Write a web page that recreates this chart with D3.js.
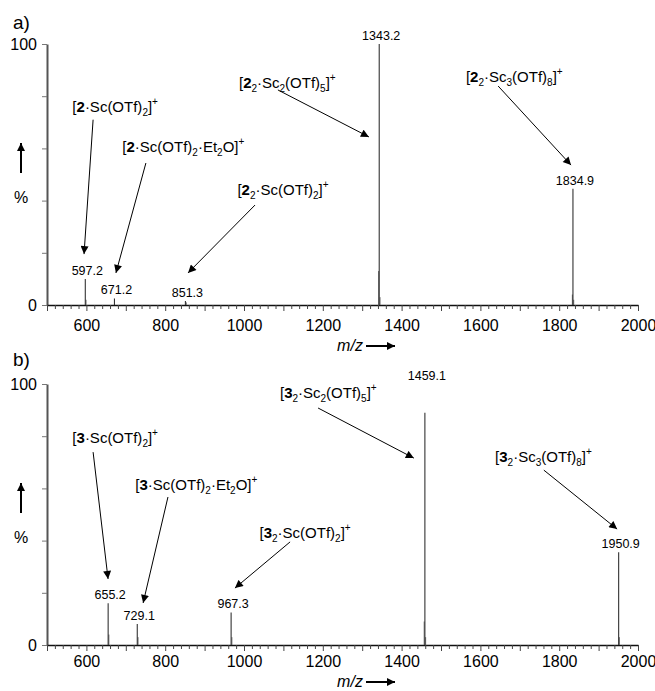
<!DOCTYPE html>
<html>
<head>
<meta charset="utf-8">
<script src="https://cdn.jsdelivr.net/npm/d3@7"></script>
<style>
  html, body { margin: 0; padding: 0; background: #fff; }
  svg { display: block; font-family: "Liberation Sans", Arial, sans-serif; }
</style>
</head>
<body>
<svg id="chart" width="655" height="691"></svg>
<script>
// ESI mass spectra, two panels.

const xDomain = [500, 2000];
const xMinorTicks = d3.range(500, 2001, 20);
const xTickLabels = [600, 800, 1000, 1200, 1400, 1600, 1800, 2000];
const yTicks = [0, 20, 40, 60, 80, 100];
const yTickLabels = [0, 100];

// labelled peaks: m/z and relative intensity (%)
const peaksA = [
  { mz: 597.2, pct: 10 },
  { mz: 671.2, pct: 2.5 },
  { mz: 851.3, pct: 1.5 },
  { mz: 1343.2, pct: 100 },
  { mz: 1834.9, pct: 44.5 },
];
const peaksB = [
  { mz: 655.2, pct: 16 },
  { mz: 729.1, pct: 8 },
  { mz: 967.3, pct: 12.5 },
  { mz: 1459.1, pct: 89 },
  { mz: 1950.9, pct: 35.5 },
];
// small unlabelled isotope / noise peaks
const minorA = [
  { mz: 599.0, pct: 2 }, { mz: 853.5, pct: 1 },
  { mz: 1341.6, pct: 13 }, { mz: 1345.2, pct: 3 },
  { mz: 1833.4, pct: 4 }, { mz: 1836.8, pct: 2 },
];
const minorB = [
  { mz: 657.0, pct: 4 }, { mz: 731.0, pct: 3 }, { mz: 969.2, pct: 3 },
  { mz: 1457.4, pct: 9 }, { mz: 1461.0, pct: 3 }, { mz: 1952.6, pct: 3 },
];

// annotation texts: *bold*, _x subscript, ^x superscript
const labelsA = [
  '[*2*·Sc(OTf)_2]^+',
  '[*2*·Sc(OTf)_2·Et_2O]^+',
  '[*2*_2·Sc(OTf)_2]^+',
  '[*2*_2·Sc_2(OTf)_5]^+',
  '[*2*_2·Sc_3(OTf)_8]^+',
];
const labelsB = [
  '[*3*·Sc(OTf)_2]^+',
  '[*3*·Sc(OTf)_2·Et_2O]^+',
  '[*3*_2·Sc(OTf)_2]^+',
  '[*3*_2·Sc_2(OTf)_5]^+',
  '[*3*_2·Sc_3(OTf)_8]^+',
];

// annotation layout in data space: text centre, arrow start, arrow tip  [mz, pct]
const layoutA = [
  { at: [673, 76], from: [617, 71], to: [594, 19.5] },
  { at: [846, 60.5], from: [751, 54.4], to: [675, 12.3] },
  { at: [1099, 44.1], from: [1028, 38.3], to: [858, 12.3] },
  { at: [1110, 85.1], from: [1086, 82.4], to: [1317, 64.4] },
  { at: [1686, 87.4], from: [1645, 83.9], to: [1830, 53.6] },
];
const layoutB = [
  { at: [673, 79.3], from: [617, 73.9], to: [655, 25.3] },
  { at: [879, 61.3], from: [807, 56.7], to: [744, 16.1] },
  { at: [1155, 42.9], from: [1117, 39.5], to: [977, 21.8] },
  { at: [1214, 96.6], from: [1188, 90.8], to: [1431, 71.6] },
  { at: [1760, 72.0], from: [1761, 67.0], to: [1947, 44.4] },
];
// where a peak's number label sits if not right above the stick
const labelLevelB = { 1459.1: 100 };

const FONT = '"Liberation Sans", Arial, sans-serif';
const svg = d3.select('#chart');

const defs = svg.append('defs');
defs.append('marker')
  .attr('id', 'head')
  .attr('markerUnits', 'userSpaceOnUse')
  .attr('viewBox', '0 0 10 10')
  .attr('refX', 10).attr('refY', 5)
  .attr('markerWidth', 9).attr('markerHeight', 8)
  .attr('orient', 'auto')
  .append('path').attr('d', 'M0,0 L10,5 L0,10 Z').attr('fill', '#000');

function richText(textSel, markup) {
  const segs = [];
  let bold = false;
  for (let i = 0; i < markup.length; i++) {
    const c = markup[i];
    if (c === '*') { bold = !bold; continue; }
    let kind = 'n', ch = c;
    if (c === '_') { kind = 's'; ch = markup[++i]; }
    else if (c === '^') { kind = 'p'; ch = markup[++i]; }
    const last = segs[segs.length - 1];
    if (last && last.kind === kind && last.bold === bold) last.t += ch;
    else segs.push({ t: ch, kind, bold });
  }
  let off = 0;
  for (const s of segs) {
    const target = s.kind === 's' ? 4 : s.kind === 'p' ? -7 : 0;
    textSel.append('tspan')
      .attr('dy', target - off)
      .attr('font-size', s.kind === 'n' ? 15 : 10)
      .attr('font-weight', s.bold ? 'bold' : 'normal')
      .text(s.t);
    off = target;
  }
}

const x = d3.scaleLinear().domain(xDomain).range([47, 638]);

function drawPanel(cfg) {
  const y = d3.scaleLinear().domain([0, 100]).range([cfg.zero, cfg.zero - 261]);
  const g = svg.append('g');

  // panel letter
  g.append('text')
    .attr('x', 13).attr('y', cfg.zero - cfg.letterUp)
    .attr('font-size', 19).attr('font-family', FONT)
    .text(cfg.letter);

  // y axis
  const yAxis = g.append('g')
    .attr('transform', `translate(${x(500)},0)`)
    .call(d3.axisLeft(y).tickValues(yTicks).tickSize(5).tickPadding(5).tickSizeOuter(0)
      .tickFormat((d) => (yTickLabels.includes(d) ? d : '')));
  yAxis.select('.domain').attr('stroke', '#555').attr('stroke-width', 2);
  yAxis.selectAll('.tick line').attr('stroke', '#777');
  yAxis.selectAll('.tick text').attr('font-size', 16).attr('font-family', FONT).attr('fill', '#000');

  // y label: arrow and %
  g.append('line')
    .attr('x1', 21).attr('x2', 21)
    .attr('y1', cfg.zero - 132).attr('y2', cfg.zero - 162)
    .attr('stroke', '#000').attr('stroke-width', 2)
    .attr('marker-end', 'url(#head)');
  g.append('text')
    .attr('x', 21).attr('y', cfg.zero - 102)
    .attr('text-anchor', 'middle')
    .attr('font-size', 16).attr('font-family', FONT)
    .text('%');

  // x axis
  const xAxis = g.append('g')
    .attr('transform', `translate(0,${cfg.zero})`)
    .call(d3.axisBottom(x).tickValues(xMinorTicks).tickSize(4).tickPadding(cfg.tickPad).tickSizeOuter(0)
      .tickFormat((d) => (xTickLabels.includes(d) ? d : '')));
  xAxis.select('.domain').attr('stroke', '#111').attr('stroke-width', 1.5);
  xAxis.selectAll('.tick line')
    .attr('stroke', '#444')
    .attr('y2', (d) => (d % 100 === 0 ? 6 : 4));
  xAxis.selectAll('.tick text').attr('font-size', 16).attr('font-family', FONT).attr('fill', '#000');

  // m/z label with arrow
  const mzY = cfg.zero + cfg.mzDown;
  g.append('text')
    .attr('x', 350).attr('y', mzY + 5)
    .attr('text-anchor', 'middle')
    .attr('font-size', 16).attr('font-style', 'italic').attr('font-family', FONT)
    .text('m/z');
  g.append('line')
    .attr('x1', 366).attr('x2', 395)
    .attr('y1', mzY).attr('y2', mzY)
    .attr('stroke', '#000').attr('stroke-width', 2)
    .attr('marker-end', 'url(#head)');

  // sticks
  g.selectAll('line.minor')
    .data(cfg.minor)
    .join('line')
    .attr('class', 'minor')
    .attr('x1', (d) => x(d.mz)).attr('x2', (d) => x(d.mz))
    .attr('y1', y(0)).attr('y2', (d) => y(d.pct))
    .attr('stroke', '#666').attr('stroke-width', 1);
  g.selectAll('line.peak')
    .data(cfg.peaks)
    .join('line')
    .attr('class', 'peak')
    .attr('x1', (d) => x(d.mz)).attr('x2', (d) => x(d.mz))
    .attr('y1', y(0)).attr('y2', (d) => y(d.pct))
    .attr('stroke', '#333').attr('stroke-width', 1.1);

  g.selectAll('text.peaklabel')
    .data(cfg.peaks)
    .join('text')
    .attr('class', 'peaklabel')
    .attr('x', (d) => x(d.mz) + 2)
    .attr('y', (d) => y(cfg.labelLevel[d.mz] ?? d.pct) - 4)
    .attr('text-anchor', 'middle')
    .attr('font-size', 12.5).attr('font-family', FONT)
    .text((d) => d.mz.toFixed(1));

  // annotations
  cfg.layout.forEach((l, i) => {
    g.append('line')
      .attr('x1', x(l.from[0])).attr('y1', y(l.from[1]))
      .attr('x2', x(l.to[0])).attr('y2', y(l.to[1]))
      .attr('stroke', '#000').attr('stroke-width', 1)
      .attr('marker-end', 'url(#head)');
    const t = g.append('text')
      .attr('x', x(l.at[0])).attr('y', y(l.at[1]) + 5)
      .attr('text-anchor', 'middle')
      .attr('font-family', FONT);
    richText(t, cfg.labels[i]);
  });
}

drawPanel({ letter: 'a)', zero: 305, letterUp: 276, tickPad: 11, mzDown: 41,
  peaks: peaksA, minor: minorA, labels: labelsA, layout: layoutA, labelLevel: {} });
drawPanel({ letter: 'b)', zero: 645, letterUp: 279, tickPad: 7, mzDown: 37,
  peaks: peaksB, minor: minorB, labels: labelsB, layout: layoutB, labelLevel: labelLevelB });
</script>
</body>
</html>
